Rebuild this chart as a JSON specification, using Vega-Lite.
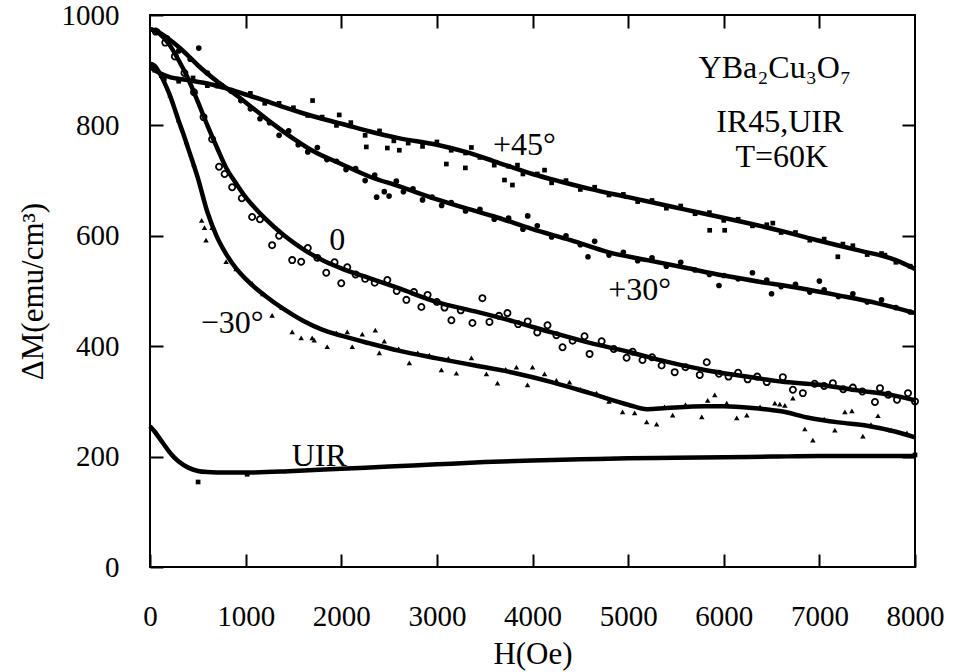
{
"$schema": "https://vega.github.io/schema/vega-lite/v6.json",
"width": 765, "height": 552,
"autosize": {"type": "none"},
"padding": {"left": 150, "top": 15, "right": 39, "bottom": 105},
"background": "white",
"config": {
  "view": {"stroke": "black", "strokeWidth": 2},
  "font": "Liberation Serif",
  "text": {"font": "Liberation Serif"},
  "axis": {"grid": false, "domain": false, "tickColor": "black", "tickWidth": 2, "tickSize": -13, "labelFlush": false, "labelOverlap": false,
           "labelFont": "Liberation Serif", "labelFontSize": 29, "labelColor": "black",
           "titleFont": "Liberation Serif", "titleFontSize": 31, "titleFontWeight": "normal", "titleColor": "black"}
},
"datasets": {
  "fit": [
    {"s":"+45","H":0,"M":905},{"s":"+45","H":100,"M":895},{"s":"+45","H":200,"M":888},{"s":"+45","H":400,"M":882},{"s":"+45","H":600,"M":876},{"s":"+45","H":800,"M":867},{"s":"+45","H":1000,"M":856},{"s":"+45","H":1200,"M":845},{"s":"+45","H":1400,"M":833},{"s":"+45","H":1600,"M":822},{"s":"+45","H":1800,"M":812},{"s":"+45","H":2000,"M":803},{"s":"+45","H":2300,"M":789},{"s":"+45","H":2600,"M":777},{"s":"+45","H":3000,"M":765},{"s":"+45","H":3300,"M":752},{"s":"+45","H":3600,"M":735},{"s":"+45","H":4000,"M":712},{"s":"+45","H":4300,"M":698},{"s":"+45","H":4600,"M":685},{"s":"+45","H":5000,"M":670},{"s":"+45","H":5400,"M":655},{"s":"+45","H":5800,"M":640},{"s":"+45","H":6200,"M":625},{"s":"+45","H":6600,"M":609},{"s":"+45","H":7000,"M":591},{"s":"+45","H":7400,"M":574},{"s":"+45","H":7800,"M":556},{"s":"+45","H":8000,"M":540},
    {"s":"+30","H":0,"M":975},{"s":"+30","H":100,"M":968},{"s":"+30","H":200,"M":956},{"s":"+30","H":300,"M":942},{"s":"+30","H":400,"M":926},{"s":"+30","H":500,"M":909},{"s":"+30","H":700,"M":880},{"s":"+30","H":900,"M":855},{"s":"+30","H":1100,"M":828},{"s":"+30","H":1300,"M":801},{"s":"+30","H":1500,"M":776},{"s":"+30","H":1700,"M":754},{"s":"+30","H":2000,"M":730},{"s":"+30","H":2300,"M":707},{"s":"+30","H":2600,"M":690},{"s":"+30","H":3000,"M":666},{"s":"+30","H":3300,"M":650},{"s":"+30","H":3600,"M":635},{"s":"+30","H":4000,"M":612},{"s":"+30","H":4400,"M":592},{"s":"+30","H":4800,"M":570},{"s":"+30","H":5200,"M":556},{"s":"+30","H":5600,"M":542},{"s":"+30","H":6000,"M":528},{"s":"+30","H":6400,"M":516},{"s":"+30","H":6800,"M":505},{"s":"+30","H":7200,"M":492},{"s":"+30","H":7600,"M":478},{"s":"+30","H":8000,"M":460},
    {"s":"0","H":0,"M":975},{"s":"0","H":100,"M":966},{"s":"0","H":200,"M":947},{"s":"0","H":300,"M":918},{"s":"0","H":400,"M":884},{"s":"0","H":500,"M":843},{"s":"0","H":600,"M":800},{"s":"0","H":700,"M":760},{"s":"0","H":800,"M":722},{"s":"0","H":900,"M":695},{"s":"0","H":1000,"M":670},{"s":"0","H":1100,"M":650},{"s":"0","H":1200,"M":632},{"s":"0","H":1400,"M":601},{"s":"0","H":1600,"M":576},{"s":"0","H":1800,"M":556},{"s":"0","H":2000,"M":541},{"s":"0","H":2300,"M":523},{"s":"0","H":2600,"M":505},{"s":"0","H":3000,"M":480},{"s":"0","H":3400,"M":463},{"s":"0","H":3800,"M":445},{"s":"0","H":4200,"M":425},{"s":"0","H":4600,"M":406},{"s":"0","H":5000,"M":390},{"s":"0","H":5400,"M":372},{"s":"0","H":5800,"M":357},{"s":"0","H":6200,"M":346},{"s":"0","H":6600,"M":336},{"s":"0","H":7000,"M":330},{"s":"0","H":7400,"M":320},{"s":"0","H":7800,"M":310},{"s":"0","H":8000,"M":302},
    {"s":"-30","H":0,"M":912},{"s":"-30","H":50,"M":908},{"s":"-30","H":100,"M":895},{"s":"-30","H":150,"M":878},{"s":"-30","H":200,"M":858},{"s":"-30","H":250,"M":834},{"s":"-30","H":300,"M":808},{"s":"-30","H":350,"M":784},{"s":"-30","H":400,"M":758},{"s":"-30","H":500,"M":705},{"s":"-30","H":600,"M":643},{"s":"-30","H":700,"M":598},{"s":"-30","H":800,"M":566},{"s":"-30","H":900,"M":541},{"s":"-30","H":1000,"M":522},{"s":"-30","H":1100,"M":506},{"s":"-30","H":1200,"M":492},{"s":"-30","H":1400,"M":467},{"s":"-30","H":1600,"M":446},{"s":"-30","H":1800,"M":430},{"s":"-30","H":2000,"M":419},{"s":"-30","H":2300,"M":405},{"s":"-30","H":2600,"M":392},{"s":"-30","H":3000,"M":378},{"s":"-30","H":3400,"M":365},{"s":"-30","H":3800,"M":352},{"s":"-30","H":4200,"M":335},{"s":"-30","H":4600,"M":315},{"s":"-30","H":5000,"M":294},{"s":"-30","H":5200,"M":286},{"s":"-30","H":5400,"M":288},{"s":"-30","H":5800,"M":291},{"s":"-30","H":6000,"M":291},{"s":"-30","H":6300,"M":288},{"s":"-30","H":6600,"M":282},{"s":"-30","H":6900,"M":270},{"s":"-30","H":7200,"M":262},{"s":"-30","H":7500,"M":256},{"s":"-30","H":7800,"M":245},{"s":"-30","H":8000,"M":235},
    {"s":"UIR","H":0,"M":255},{"s":"UIR","H":50,"M":245},{"s":"UIR","H":100,"M":233},{"s":"UIR","H":150,"M":221},{"s":"UIR","H":200,"M":209},{"s":"UIR","H":250,"M":199},{"s":"UIR","H":300,"M":191},{"s":"UIR","H":400,"M":180},{"s":"UIR","H":500,"M":174},{"s":"UIR","H":600,"M":172},{"s":"UIR","H":800,"M":171},{"s":"UIR","H":1000,"M":171},{"s":"UIR","H":1500,"M":174},{"s":"UIR","H":2000,"M":178},{"s":"UIR","H":2500,"M":182},{"s":"UIR","H":3000,"M":186},{"s":"UIR","H":3500,"M":190},{"s":"UIR","H":4000,"M":193},{"s":"UIR","H":4500,"M":195},{"s":"UIR","H":5000,"M":197},{"s":"UIR","H":5500,"M":198},{"s":"UIR","H":6000,"M":199},{"s":"UIR","H":6500,"M":200},{"s":"UIR","H":7000,"M":201},{"s":"UIR","H":7500,"M":201},{"s":"UIR","H":8000,"M":201}
  ],
  "pts": [
    {"s":"+45","H":50,"M":900},{"s":"+45","H":150,"M":885},{"s":"+45","H":300,"M":880},{"s":"+45","H":450,"M":886},{"s":"+45","H":600,"M":872},{"s":"+45","H":750,"M":872},{"s":"+45","H":900,"M":858},{"s":"+45","H":1050,"M":858},{"s":"+45","H":1200,"M":840},{"s":"+45","H":1350,"M":840},{"s":"+45","H":1500,"M":832},{"s":"+45","H":1650,"M":818},{"s":"+45","H":1700,"M":845},{"s":"+45","H":1800,"M":815},{"s":"+45","H":1950,"M":800},{"s":"+45","H":1979,"M":819},{"s":"+45","H":2100,"M":805},{"s":"+45","H":2250,"M":782},{"s":"+45","H":2262,"M":761},{"s":"+45","H":2400,"M":790},{"s":"+45","H":2482,"M":759},{"s":"+45","H":2550,"M":772},{"s":"+45","H":2607,"M":755},{"s":"+45","H":2700,"M":768},{"s":"+45","H":2850,"M":762},{"s":"+45","H":3000,"M":770},{"s":"+45","H":3099,"M":730},{"s":"+45","H":3150,"M":755},{"s":"+45","H":3298,"M":723},{"s":"+45","H":3300,"M":750},{"s":"+45","H":3361,"M":760},{"s":"+45","H":3450,"M":742},{"s":"+45","H":3600,"M":728},{"s":"+45","H":3707,"M":701},{"s":"+45","H":3750,"M":726},{"s":"+45","H":3790,"M":692},{"s":"+45","H":3843,"M":728},{"s":"+45","H":3900,"M":712},{"s":"+45","H":4050,"M":712},{"s":"+45","H":4126,"M":719},{"s":"+45","H":4200,"M":696},{"s":"+45","H":4350,"M":700},{"s":"+45","H":4500,"M":684},{"s":"+45","H":4650,"M":688},{"s":"+45","H":4800,"M":674},{"s":"+45","H":4950,"M":675},{"s":"+45","H":5100,"M":662},{"s":"+45","H":5250,"M":664},{"s":"+45","H":5400,"M":650},{"s":"+45","H":5550,"M":654},{"s":"+45","H":5700,"M":640},{"s":"+45","H":5853,"M":610},{"s":"+45","H":5850,"M":642},{"s":"+45","H":6010,"M":610},{"s":"+45","H":6000,"M":628},{"s":"+45","H":6150,"M":630},{"s":"+45","H":6300,"M":618},{"s":"+45","H":6450,"M":620},{"s":"+45","H":6513,"M":623},{"s":"+45","H":6600,"M":606},{"s":"+45","H":6750,"M":606},{"s":"+45","H":6900,"M":592},{"s":"+45","H":7050,"M":594},{"s":"+45","H":7193,"M":562},{"s":"+45","H":7246,"M":585},{"s":"+45","H":7350,"M":582},{"s":"+45","H":7500,"M":566},{"s":"+45","H":7650,"M":568},{"s":"+45","H":7686,"M":565},{"s":"+45","H":7800,"M":552},{"s":"+45","H":7950,"M":545},
    {"s":"+30","H":80,"M":970},{"s":"+30","H":180,"M":958},{"s":"+30","H":300,"M":935},{"s":"+30","H":420,"M":920},{"s":"+30","H":510,"M":940},{"s":"+30","H":600,"M":895},{"s":"+30","H":700,"M":872},{"s":"+30","H":850,"M":862},{"s":"+30","H":950,"M":845},{"s":"+30","H":1050,"M":830},{"s":"+30","H":1150,"M":812},{"s":"+30","H":1250,"M":805},{"s":"+30","H":1350,"M":782},{"s":"+30","H":1450,"M":790},{"s":"+30","H":1550,"M":765},{"s":"+30","H":1650,"M":752},{"s":"+30","H":1750,"M":760},{"s":"+30","H":1850,"M":738},{"s":"+30","H":1950,"M":735},{"s":"+30","H":2050,"M":720},{"s":"+30","H":2150,"M":722},{"s":"+30","H":2250,"M":700},{"s":"+30","H":2350,"M":710},{"s":"+30","H":2370,"M":670},{"s":"+30","H":2450,"M":680},{"s":"+30","H":2500,"M":672},{"s":"+30","H":2576,"M":699},{"s":"+30","H":2650,"M":680},{"s":"+30","H":2750,"M":685},{"s":"+30","H":2850,"M":665},{"s":"+30","H":2950,"M":670},{"s":"+30","H":3050,"M":655},{"s":"+30","H":3150,"M":660},{"s":"+30","H":3300,"M":645},{"s":"+30","H":3450,"M":648},{"s":"+30","H":3600,"M":630},{"s":"+30","H":3750,"M":632},{"s":"+30","H":3900,"M":612},{"s":"+30","H":3950,"M":636},{"s":"+30","H":4050,"M":618},{"s":"+30","H":4200,"M":598},{"s":"+30","H":4350,"M":600},{"s":"+30","H":4500,"M":584},{"s":"+30","H":4580,"M":562},{"s":"+30","H":4650,"M":590},{"s":"+30","H":4800,"M":565},{"s":"+30","H":4950,"M":570},{"s":"+30","H":5100,"M":555},{"s":"+30","H":5250,"M":560},{"s":"+30","H":5400,"M":545},{"s":"+30","H":5550,"M":552},{"s":"+30","H":5700,"M":538},{"s":"+30","H":5850,"M":530},{"s":"+30","H":5950,"M":510},{"s":"+30","H":6000,"M":528},{"s":"+30","H":6150,"M":522},{"s":"+30","H":6300,"M":533},{"s":"+30","H":6450,"M":520},{"s":"+30","H":6500,"M":495},{"s":"+30","H":6600,"M":508},{"s":"+30","H":6750,"M":512},{"s":"+30","H":6900,"M":498},{"s":"+30","H":7000,"M":518},{"s":"+30","H":7050,"M":502},{"s":"+30","H":7200,"M":490},{"s":"+30","H":7350,"M":495},{"s":"+30","H":7500,"M":480},{"s":"+30","H":7650,"M":484},{"s":"+30","H":7800,"M":470},{"s":"+30","H":7950,"M":462},
    {"s":"0","H":60,"M":970},{"s":"0","H":160,"M":950},{"s":"0","H":260,"M":925},{"s":"0","H":360,"M":895},{"s":"0","H":460,"M":860},{"s":"0","H":560,"M":815},{"s":"0","H":650,"M":775},{"s":"0","H":722,"M":725},{"s":"0","H":780,"M":712},{"s":"0","H":859,"M":688},{"s":"0","H":960,"M":668},{"s":"0","H":1068,"M":634},{"s":"0","H":1150,"M":630},{"s":"0","H":1277,"M":583},{"s":"0","H":1350,"M":600},{"s":"0","H":1487,"M":556},{"s":"0","H":1581,"M":553},{"s":"0","H":1650,"M":578},{"s":"0","H":1750,"M":560},{"s":"0","H":1843,"M":533},{"s":"0","H":1930,"M":552},{"s":"0","H":2000,"M":514},{"s":"0","H":2063,"M":543},{"s":"0","H":2150,"M":530},{"s":"0","H":2250,"M":522},{"s":"0","H":2350,"M":515},{"s":"0","H":2482,"M":520},{"s":"0","H":2580,"M":500},{"s":"0","H":2681,"M":484},{"s":"0","H":2760,"M":498},{"s":"0","H":2838,"M":471},{"s":"0","H":2903,"M":493},{"s":"0","H":3000,"M":480},{"s":"0","H":3080,"M":470},{"s":"0","H":3152,"M":447},{"s":"0","H":3250,"M":465},{"s":"0","H":3372,"M":442},{"s":"0","H":3476,"M":487},{"s":"0","H":3550,"M":444},{"s":"0","H":3650,"M":455},{"s":"0","H":3738,"M":460},{"s":"0","H":3850,"M":440},{"s":"0","H":3950,"M":445},{"s":"0","H":4050,"M":425},{"s":"0","H":4157,"M":438},{"s":"0","H":4250,"M":420},{"s":"0","H":4314,"M":398},{"s":"0","H":4420,"M":410},{"s":"0","H":4544,"M":418},{"s":"0","H":4597,"M":386},{"s":"0","H":4723,"M":409},{"s":"0","H":4850,"M":395},{"s":"0","H":4984,"M":379},{"s":"0","H":5047,"M":390},{"s":"0","H":5150,"M":375},{"s":"0","H":5250,"M":380},{"s":"0","H":5350,"M":365},{"s":"0","H":5487,"M":353},{"s":"0","H":5600,"M":362},{"s":"0","H":5749,"M":348},{"s":"0","H":5822,"M":371},{"s":"0","H":5950,"M":350},{"s":"0","H":6050,"M":345},{"s":"0","H":6150,"M":352},{"s":"0","H":6250,"M":340},{"s":"0","H":6350,"M":345},{"s":"0","H":6450,"M":335},{"s":"0","H":6618,"M":344},{"s":"0","H":6723,"M":321},{"s":"0","H":6827,"M":315},{"s":"0","H":6950,"M":332},{"s":"0","H":7050,"M":328},{"s":"0","H":7141,"M":333},{"s":"0","H":7250,"M":322},{"s":"0","H":7350,"M":325},{"s":"0","H":7450,"M":318},{"s":"0","H":7581,"M":299},{"s":"0","H":7634,"M":324},{"s":"0","H":7720,"M":312},{"s":"0","H":7812,"M":303},{"s":"0","H":7927,"M":315},{"s":"0","H":8000,"M":300},
    {"s":"-30","H":30,"M":908},{"s":"-30","H":120,"M":890},{"s":"-30","H":210,"M":855},{"s":"-30","H":300,"M":810},{"s":"-30","H":380,"M":770},{"s":"-30","H":460,"M":730},{"s":"-30","H":540,"M":628},{"s":"-30","H":570,"M":615},{"s":"-30","H":586,"M":592},{"s":"-30","H":650,"M":615},{"s":"-30","H":796,"M":553},{"s":"-30","H":900,"M":540},{"s":"-30","H":1068,"M":514},{"s":"-30","H":1180,"M":495},{"s":"-30","H":1277,"M":456},{"s":"-30","H":1380,"M":470},{"s":"-30","H":1487,"M":426},{"s":"-30","H":1581,"M":415},{"s":"-30","H":1696,"M":415},{"s":"-30","H":1717,"M":411},{"s":"-30","H":1853,"M":399},{"s":"-30","H":1948,"M":424},{"s":"-30","H":2063,"M":426},{"s":"-30","H":2115,"M":399},{"s":"-30","H":2220,"M":422},{"s":"-30","H":2356,"M":429},{"s":"-30","H":2398,"M":388},{"s":"-30","H":2450,"M":409},{"s":"-30","H":2600,"M":395},{"s":"-30","H":2712,"M":370},{"s":"-30","H":2800,"M":388},{"s":"-30","H":2921,"M":384},{"s":"-30","H":3047,"M":357},{"s":"-30","H":3120,"M":378},{"s":"-30","H":3204,"M":351},{"s":"-30","H":3361,"M":379},{"s":"-30","H":3440,"M":365},{"s":"-30","H":3518,"M":350},{"s":"-30","H":3634,"M":333},{"s":"-30","H":3720,"M":358},{"s":"-30","H":3832,"M":362},{"s":"-30","H":3948,"M":330},{"s":"-30","H":4000,"M":362},{"s":"-30","H":4126,"M":350},{"s":"-30","H":4250,"M":338},{"s":"-30","H":4387,"M":335},{"s":"-30","H":4500,"M":322},{"s":"-30","H":4670,"M":315},{"s":"-30","H":4800,"M":300},{"s":"-30","H":4942,"M":281},{"s":"-30","H":5068,"M":279},{"s":"-30","H":5194,"M":263},{"s":"-30","H":5298,"M":259},{"s":"-30","H":5380,"M":290},{"s":"-30","H":5466,"M":275},{"s":"-30","H":5600,"M":294},{"s":"-30","H":5770,"M":272},{"s":"-30","H":5832,"M":302},{"s":"-30","H":5906,"M":312},{"s":"-30","H":6031,"M":297},{"s":"-30","H":6136,"M":270},{"s":"-30","H":6241,"M":275},{"s":"-30","H":6380,"M":290},{"s":"-30","H":6534,"M":297},{"s":"-30","H":6586,"M":295},{"s":"-30","H":6639,"M":293},{"s":"-30","H":6723,"M":306},{"s":"-30","H":6848,"M":250},{"s":"-30","H":6932,"M":230},{"s":"-30","H":7050,"M":268},{"s":"-30","H":7162,"M":248},{"s":"-30","H":7267,"M":281},{"s":"-30","H":7340,"M":283},{"s":"-30","H":7455,"M":237},{"s":"-30","H":7540,"M":258},{"s":"-30","H":7613,"M":274},{"s":"-30","H":7750,"M":248},{"s":"-30","H":7916,"M":243},
    {"s":"UIR","H":503,"M":154},{"s":"UIR","H":1016,"M":168},{"s":"UIR","H":8000,"M":203}
  ],
  "lab": [
    {"H":3916,"M":764,"t":"+45°"},
    {"H":5120,"M":502,"t":"+30°"},
    {"H":1958,"M":592,"t":"0"},
    {"H":859,"M":442,"t":"−30°"},
    {"H":1770,"M":201,"t":"UIR"}
  ],
  "note": [
    {"H":6534,"M":886,"t":"YBa₂Cu₃O₇"},
    {"H":6586,"M":788,"t":"IR45,UIR"},
    {"H":6607,"M":725,"t":"T=60K"}
  ]
},
"resolve": {"axis": {"x": "independent", "y": "independent"}},
"layer": [
  {
    "layer": [
      {"data": {"name": "fit"}, "mark": {"type": "line", "color": "black", "strokeWidth": 4.5, "interpolate": "monotone"},
       "encoding": {
         "x": {"field": "H", "type": "quantitative", "scale": {"domain": [0, 8000], "nice": false},
               "axis": {"orient": "bottom", "values": [0,1000,2000,3000,4000,5000,6000,7000,8000], "format": "d", "labelPadding": 48, "title": "H(Oe)", "titlePadding": 8}},
         "y": {"field": "M", "type": "quantitative", "scale": {"domain": [0, 1000], "nice": false},
               "axis": {"orient": "left", "values": [0,200,400,600,800,1000], "format": "d", "labelPadding": 44, "title": "ΔM(emu/cm³)", "titlePadding": 12}},
         "detail": {"field": "s"}}},
      {"data": {"name": "pts"}, "transform": [{"filter": "datum.s == '+45' || datum.s == 'UIR'"}],
       "mark": {"type": "square", "color": "black", "filled": true, "size": 22, "opacity": 1},
       "encoding": {"x": {"field": "H", "type": "quantitative"}, "y": {"field": "M", "type": "quantitative"}}},
      {"data": {"name": "pts"}, "transform": [{"filter": "datum.s == '+30'"}],
       "mark": {"type": "circle", "color": "black", "size": 32, "opacity": 1},
       "encoding": {"x": {"field": "H", "type": "quantitative"}, "y": {"field": "M", "type": "quantitative"}}},
      {"data": {"name": "pts"}, "transform": [{"filter": "datum.s == '0'"}],
       "mark": {"type": "point", "shape": "circle", "color": "black", "filled": false, "size": 38, "strokeWidth": 1.8, "opacity": 1},
       "encoding": {"x": {"field": "H", "type": "quantitative"}, "y": {"field": "M", "type": "quantitative"}}},
      {"data": {"name": "pts"}, "transform": [{"filter": "datum.s == '-30'"}],
       "mark": {"type": "point", "shape": "triangle-up", "color": "black", "filled": true, "size": 30, "opacity": 1},
       "encoding": {"x": {"field": "H", "type": "quantitative"}, "y": {"field": "M", "type": "quantitative"}}},
      {"data": {"name": "lab"}, "mark": {"type": "text", "font": "Liberation Serif", "fontSize": 32, "color": "black", "align": "center", "baseline": "middle"},
       "encoding": {"x": {"field": "H", "type": "quantitative"}, "y": {"field": "M", "type": "quantitative"}, "text": {"field": "t"}}},
      {"data": {"name": "note"}, "mark": {"type": "text", "font": "Liberation Serif", "fontSize": 32, "color": "black", "align": "center", "baseline": "alphabetic"},
       "encoding": {"x": {"field": "H", "type": "quantitative"}, "y": {"field": "M", "type": "quantitative"}, "text": {"field": "t"}}}
    ]
  },
  {
    "data": {"name": "pts"}, "transform": [{"filter": "datum.s == 'UIR'"}],
    "mark": {"type": "point", "opacity": 0},
    "encoding": {
      "x": {"field": "H", "type": "quantitative", "axis": {"orient": "top", "values": [1000,2000,3000,4000,5000,6000,7000], "labels": false, "title": null}},
      "y": {"field": "M", "type": "quantitative", "axis": {"orient": "right", "values": [200,400,600,800], "labels": false, "title": null}}
    }
  }
]
}
